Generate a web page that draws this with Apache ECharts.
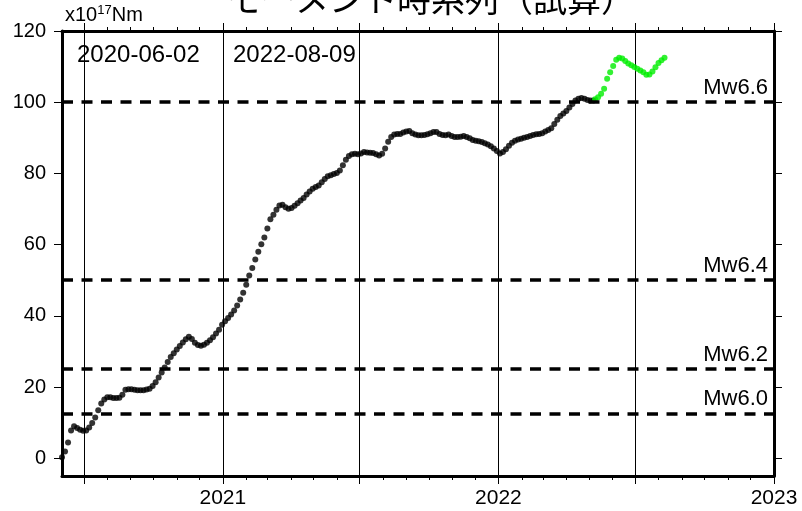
<!DOCTYPE html>
<html>
<head>
<meta charset="utf-8">
<script src="https://cdn.jsdelivr.net/npm/echarts@6/dist/echarts.min.js"></script>
<style>
  html, body { margin: 0; padding: 0; background: #fff; }
  #chart { width: 802px; height: 511px; }
</style>
</head>
<body>
<div id="chart"></div>
<script>
// Cumulative seismic moment (x10^17 Nm), sampled every 4 days from the start date
const startDate = '2020-06-02';
const endDate = '2022-08-09';
const axisEnd = '2023-01-01';
const stepDays = 4;

// Moment series up to 2022-05 (black)
const blackValues = [
  0.3, 1.9, 4.4, 7.8, 9.0, 8.5, 8.0, 7.7, 7.8, 8.6,
  9.9, 11.4, 13.5, 15.4, 16.5, 17.1, 17.1, 16.9, 16.9, 17.0,
  17.8, 19.2, 19.4, 19.4, 19.2, 19.1, 19.1, 19.1, 19.3, 19.5,
  20.3, 21.3, 22.7, 24.1, 25.5, 27.0, 28.4, 29.5, 30.5, 31.5,
  32.5, 33.4, 34.1, 33.5, 32.4, 31.8, 31.6, 31.9, 32.4, 33.1,
  34.0, 35.0, 36.1, 37.5, 38.5, 39.4, 40.4, 41.5, 42.9, 44.6,
  46.5, 48.7, 51.3, 53.4, 55.8, 58.0, 60.1, 62.0, 64.5, 67.1,
  68.4, 69.8, 71.0, 71.2, 70.5, 70.1, 70.3, 70.9, 71.6, 72.4,
  73.1, 74.1, 74.9, 75.7, 76.2, 76.6, 77.5, 78.4, 79.2, 79.5,
  79.8, 80.1, 80.8, 82.3, 83.8, 84.9, 85.4, 85.5, 85.4, 85.6,
  86.0, 85.9, 85.8, 85.7, 85.4, 85.0, 85.5, 87.0, 88.9, 90.2,
  90.9, 91.1, 91.1, 91.5, 91.8, 91.9, 91.3, 90.9, 90.7, 90.7,
  90.8, 91.0, 91.3, 91.6, 91.6, 91.1, 90.8, 90.7, 90.9, 90.5,
  90.2, 90.2, 90.3, 90.5, 90.2, 89.9, 89.4, 89.2, 89.0, 88.8,
  88.5, 88.1, 87.6, 87.0, 86.3, 85.6, 86.0, 86.8, 87.8, 88.6,
  89.2, 89.5, 89.7, 90.0, 90.2, 90.5, 90.8, 91.0, 91.1, 91.3,
  91.8, 92.2, 92.7, 93.9, 95.1, 96.1, 96.8, 97.5, 98.5, 99.5,
  100.5, 101.0, 101.2, 101.0, 100.6, 100.5, 100.5
];

// Most recent part of the series (green), starting at day 706
const greenStartDay = 706;
const greenValues = [
  100.8, 101.4, 102.4, 103.8, 106.6, 108.4, 110.2, 111.9, 112.5, 112.3,
  111.6, 110.9, 110.4, 109.9, 109.4, 108.9, 108.4, 107.7, 107.8, 108.6,
  109.8, 111.0, 111.8, 112.5
];

// Reference magnitudes and their moments (x10^17 Nm)
const mwNames = ['Mw6.0', 'Mw6.2', 'Mw6.4', 'Mw6.6'];
const mwMoments = [12.59, 25.12, 50.12, 100.0];

// Axis ticks
const yTicks = [0, 20, 40, 60, 80, 100, 120];
const halfYearTicks = ['2020-07-01', '2021-01-01', '2021-07-01', '2022-01-01', '2022-07-01', '2023-01-01'];
const yearLabels = ['2021-01-01', '2022-01-01', '2023-01-01'];

const DAY = 86400000;
const ts = s => Date.parse(s + 'T00:00:00Z');
const t0 = ts(startDate);

const monthTicks = [];
for (let y = 2020; y <= 2022; y++) {
  for (let m = (y === 2020 ? 6 : 0); m < 12; m++) monthTicks.push(Date.UTC(y, m, 1));
}

const blackData = blackValues.map((v, i) => [t0 + i * stepDays * DAY, v]);
const greenData = greenValues.map((v, i) => [t0 + (greenStartDay + i * stepDays) * DAY, v]);

const FONT = 'Liberation Sans, Arial, Helvetica, sans-serif';
const black = '#000';

function xAxisOf(position, ticks, len, opts) {
  return Object.assign({
    type: 'value', gridIndex: 0, position: position,
    min: ts(startDate), max: ts(axisEnd),
    axisLine: { show: false, onZero: false },
    axisTick: { show: true, inside: false, customValues: ticks, length: len, lineStyle: { color: black, width: 1 } },
    axisLabel: { show: false },
    splitLine: { show: false }
  }, opts || {});
}

function yAxisOf(position, showLabels) {
  return {
    type: 'value', gridIndex: 0, position: position,
    min: -5, max: 120,
    axisLine: { show: true, onZero: false, lineStyle: { color: black, width: 3 } },
    axisTick: { show: true, inside: false, customValues: yTicks, length: 8, lineStyle: { color: black, width: 1 } },
    axisLabel: showLabels ? { show: true, customValues: yTicks, fontSize: 20, color: black, margin: 16, fontFamily: FONT } : { show: false },
    splitLine: { show: false }
  };
}

const chart = echarts.init(document.getElementById('chart'), null, { renderer: 'canvas' });
chart.setOption({
  animation: false,
  backgroundColor: '#fff',
  grid: { left: 62, top: 31, width: 712, height: 445, containLabel: false },
  xAxis: [
    xAxisOf('bottom', halfYearTicks.map(ts), 8, {
      axisLine: { show: true, onZero: false, lineStyle: { color: black, width: 3 } },
      axisLabel: {
        show: true, customValues: yearLabels.map(ts), fontSize: 21, color: black, margin: 12, fontFamily: FONT,
        formatter: v => String(new Date(v).getUTCFullYear())
      },
      splitLine: { show: true, lineStyle: { color: black, width: 1 } }
    }),
    xAxisOf('bottom', monthTicks, 4),
    xAxisOf('top', halfYearTicks.map(ts), 8, {
      axisLine: { show: true, onZero: false, lineStyle: { color: black, width: 3 } }
    }),
    xAxisOf('top', monthTicks, 4)
  ],
  yAxis: [yAxisOf('left', true), yAxisOf('right', false)],
  series: [
    {
      type: 'scatter', name: 'moment', xAxisIndex: 0, yAxisIndex: 0,
      data: blackData, symbol: 'circle', symbolSize: 6,
      itemStyle: { color: black }, z: 3,
      markLine: {
        silent: true, symbol: 'none', animation: false,
        lineStyle: { color: black, width: 3.5, type: [11, 8.5] },
        label: { position: 'insideEndTop', fontSize: 22, color: black, fontFamily: FONT, distance: [6, 3] },
        data: mwNames.map((n, i) => ({ yAxis: mwMoments[i], label: { formatter: n } }))
      }
    },
    {
      type: 'scatter', name: 'recent', xAxisIndex: 0, yAxisIndex: 0,
      data: greenData, symbol: 'circle', symbolSize: 6,
      itemStyle: { color: '#00ee00' }, z: 4
    }
  ],
  graphic: [
    {
      type: 'text', x: 431, y: -1, silent: true,
      style: { text: 'モーメント時系列（試算）', font: '34px "Noto Sans CJK JP", sans-serif', fill: black, align: 'center', verticalAlign: 'middle' }
    },
    {
      type: 'text', x: 65, y: 15.5, silent: true,
      style: {
        text: '{a|x10}{b|17}{a|Nm}', fill: black, align: 'left', verticalAlign: 'middle',
        rich: {
          a: { fontSize: 20, fontFamily: FONT, lineHeight: 24, fill: black },
          b: { fontSize: 13, fontFamily: FONT, verticalAlign: 'top', lineHeight: 13, fill: black }
        }
      }
    },
    {
      type: 'text', x: 77, y: 55.3, silent: true,
      style: { text: startDate, font: '24px ' + FONT, fill: black, align: 'left', verticalAlign: 'middle' }
    },
    {
      type: 'text', x: 233, y: 55.3, silent: true,
      style: { text: endDate, font: '24px ' + FONT, fill: black, align: 'left', verticalAlign: 'middle' }
    }
  ]
});
</script>
</body>
</html>
